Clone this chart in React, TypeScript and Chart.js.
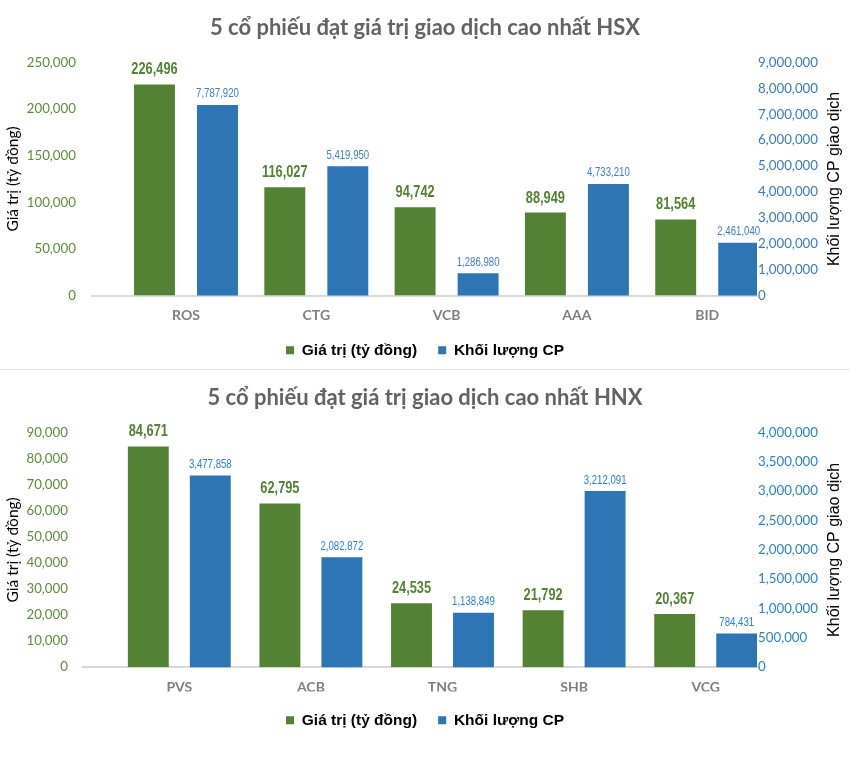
import React, { useEffect, useRef } from 'react';
import { Chart, registerables } from 'chart.js';

Chart.register(...registerables);

// ---------- data ----------
const hsxTitle = '5 cổ phiếu đạt giá trị giao dịch cao nhất HSX';
const hsxCategories = ['ROS', 'CTG', 'VCB', 'AAA', 'BID'];
const hsxValue = [226496, 116027, 94742, 88949, 81564];
const hsxVolume = [7787920, 5419950, 1286980, 4733210, 2461040];

const hnxTitle = '5 cổ phiếu đạt giá trị giao dịch cao nhất HNX';
const hnxCategories = ['PVS', 'ACB', 'TNG', 'SHB', 'VCG'];
const hnxValue = [84671, 62795, 24535, 21792, 20367];
const hnxVolume = [3477858, 2082872, 1138849, 3212091, 784431];

const seriesLabels = ['Giá trị (tỷ đồng)', 'Khối lượng CP'];
const leftAxisTitle = 'Giá trị (tỷ đồng)';
const rightAxisTitle = 'Khối lượng CP giao dịch';

// axis ranges
const hsxLeftMax = 250000;
const hsxLeftStep = 50000;
const hsxRightMax = 9000000;
const hsxRightStep = 1000000;
const hsxVolBase = 425000;

const hnxLeftMax = 90000;
const hnxLeftStep = 10000;
const hnxRightMax = 4000000;
const hnxRightStep = 500000;
const hnxVolBase = 210000;

const GREEN = '#548235';
const BLUE = '#2e75b6';

const fmt = (v: number) => Math.round(v).toLocaleString('en-US');

const valueLabels = {
  id: 'valueLabels',
  afterDatasetsDraw(chart: any, _args: any, opts: any) {
    const { ctx } = chart;
    chart.data.datasets.forEach((ds: any, di: number) => {
      const meta = chart.getDatasetMeta(di);
      const st = opts.styles[di];
      meta.data.forEach((el: any, i: number) => {
        const text = fmt(ds.data[i].y);
        ctx.save();
        ctx.font = st.font;
        ctx.fillStyle = st.color;
        ctx.textAlign = 'center';
        ctx.textBaseline = 'alphabetic';
        ctx.translate(el.x, el.y - st.offset);
        ctx.scale(st.scaleX, 1);
        ctx.fillText(text, 0, 0);
        ctx.restore();
      });
    });
  },
};

const axisTitles = {
  id: 'axisTitles',
  afterDraw(chart: any, _args: any, opts: any) {
    const { ctx, chartArea } = chart;
    const cy = (chartArea.top + chartArea.bottom) / 2;
    for (const t of opts.items) {
      ctx.save();
      ctx.translate(t.x, cy + (t.dy || 0));
      ctx.rotate(-Math.PI / 2);
      ctx.font = t.font;
      ctx.fillStyle = t.color;
      ctx.textAlign = 'center';
      ctx.textBaseline = 'middle';
      ctx.fillText(t.text, 0, 0);
      ctx.restore();
    }
  },
};

type PanelProps = {
  height: number;
  title: string;
  categories: string[];
  values: number[];
  volumes: number[];
  leftMax: number;
  leftStep: number;
  rightMax: number;
  rightStep: number;
  volBase: number;
  chartLeft: number;
  chartRight: number;
  firstCenter: number;
  spacing: number;
  xAxisHeight: number;
  bottomPad: number;
  catPct: number;
  barPct: number;
  leftTickColor: string;
  rightTickColor: string;
  blueLabelColor: string;
  leftTickPad: number;
};

function Panel(p: PanelProps) {
  const ref = useRef<HTMLCanvasElement | null>(null);
  useEffect(() => {
    if (!ref.current) return;
    const W = 850;
    const xMin = (p.chartLeft - p.firstCenter) / p.spacing;
    const xMax = (p.chartRight - p.firstCenter) / p.spacing;
    const chart = new Chart(ref.current, {
      type: 'bar',
      data: {
        datasets: [
          {
            label: seriesLabels[0],
            data: p.values.map((v, i) => ({ x: i, y: v })),
            backgroundColor: GREEN,
            yAxisID: 'y',
            categoryPercentage: p.catPct,
            barPercentage: p.barPct,
          },
          {
            label: seriesLabels[1],
            data: p.volumes.map((v, i) => ({ x: i, y: v })),
            backgroundColor: BLUE,
            yAxisID: 'yVol',
            categoryPercentage: p.catPct,
            barPercentage: p.barPct,
          },
        ],
      } as any,
      options: {
        animation: false,
        responsive: false,
        maintainAspectRatio: false,
        layout: { padding: { left: 0, right: 0, top: 0, bottom: p.bottomPad } },
        scales: {
          x: {
            type: 'linear',
            offset: false,
            min: xMin,
            max: xMax,
            grid: { display: false, drawTicks: false },
            border: { display: true, color: '#d9d9d9', width: 2 },
            afterBuildTicks: (s: any) => {
              s.ticks = p.categories.map((_, i) => ({ value: i }));
            },
            afterFit: (s: any) => {
              s.height = p.xAxisHeight;
            },
            ticks: {
              autoSkip: false,
              maxRotation: 0,
              padding: 12,
              color: '#7f7f7f',
              font: { family: 'Lato', size: 14, weight: 'bold' },
              callback: (v: any) => p.categories[Math.round(Number(v))] ?? '',
            },
          },
          y: {
            position: 'left',
            min: 0,
            max: p.leftMax,
            grid: { display: false, drawTicks: false },
            border: { display: false },
            afterFit: (s: any) => {
              s.width = p.chartLeft;
            },
            ticks: {
              stepSize: p.leftStep,
              padding: p.leftTickPad,
              color: p.leftTickColor,
              font: { family: 'Lato', size: 13.3 },
              callback: (v: any) => fmt(Number(v)),
            },
          },
          yRight: {
            position: 'right',
            min: 0,
            max: p.rightMax,
            grid: { display: false, drawTicks: false },
            border: { display: false },
            afterFit: (s: any) => {
              s.width = W - p.chartRight;
            },
            ticks: {
              stepSize: p.rightStep,
              padding: 1,
              color: p.rightTickColor,
              font: { family: 'Lato', size: 13.3 },
              callback: (v: any) => fmt(Number(v)),
            },
          },
          yVol: {
            display: false,
            position: 'right',
            min: p.volBase,
            max: p.volBase + p.rightMax,
          },
        },
        plugins: {
          title: {
            display: true,
            text: p.title,
            color: '#636363',
            font: { family: 'Lato', size: 22, weight: 'bold', lineHeight: 1.2 },
            padding: { top: 15, bottom: 21.1 },
          },
          legend: {
            display: true,
            position: 'bottom',
            labels: {
              boxWidth: 8,
              boxHeight: 8,
              padding: 21,
              color: '#000000',
              font: { family: 'Liberation Sans', size: 15.5, weight: 'bold' },
            },
          },
          tooltip: { enabled: false },
          valueLabels: {
            styles: [
              { font: 'bold 16px "Liberation Sans"', color: GREEN, offset: 10, scaleX: 0.8 },
              { font: '13px "Liberation Sans"', color: p.blueLabelColor, offset: 7.5, scaleX: 0.74 },
            ],
          },
          axisTitles: {
            items: [
              { text: leftAxisTitle, x: 13, font: '15.5px Lato', color: '#000000' },
              { text: rightAxisTitle, x: 835, font: '16px "Liberation Sans"', color: '#000000' },
            ],
          },
        } as any,
      },
      plugins: [valueLabels, axisTitles] as any,
    });
    return () => chart.destroy();
  }, []);
  return <canvas ref={ref} width={850} height={p.height} style={{ display: 'block', width: 850, height: p.height }} />;
}

export default function App() {
  return (
    <div style={{ position: 'absolute', left: 0, top: 0, width: 850, height: 768, background: '#ffffff' }}>
      <Panel
        height={369}
        title={hsxTitle}
        categories={hsxCategories}
        values={hsxValue}
        volumes={hsxVolume}
        leftMax={hsxLeftMax}
        leftStep={hsxLeftStep}
        rightMax={hsxRightMax}
        rightStep={hsxRightStep}
        volBase={hsxVolBase}
        chartLeft={92}
        chartRight={757}
        firstCenter={186}
        spacing={130.3}
        xAxisHeight={26}
        bottomPad={1}
        catPct={0.967}
        barPct={0.65}
        leftTickColor="#5b8c3c"
        rightTickColor="#3a79bf"
        blueLabelColor="#3f80c6"
        leftTickPad={16}
      />
      <div style={{ height: 1, background: '#e6e6e6' }} />
      <Panel
        height={398}
        title={hnxTitle}
        categories={hnxCategories}
        values={hnxValue}
        volumes={hnxVolume}
        leftMax={hnxLeftMax}
        leftStep={hnxLeftStep}
        rightMax={hnxRightMax}
        rightStep={hnxRightStep}
        volBase={hnxVolBase}
        chartLeft={83}
        chartRight={757}
        firstCenter={179.3}
        spacing={131.6}
        xAxisHeight={24.3}
        bottomPad={30}
        catPct={0.942}
        barPct={0.66}
        leftTickColor="#5b8c3c"
        rightTickColor="#2a80cf"
        blueLabelColor="#2a82cf"
        leftTickPad={15}
      />
    </div>
  );
}
